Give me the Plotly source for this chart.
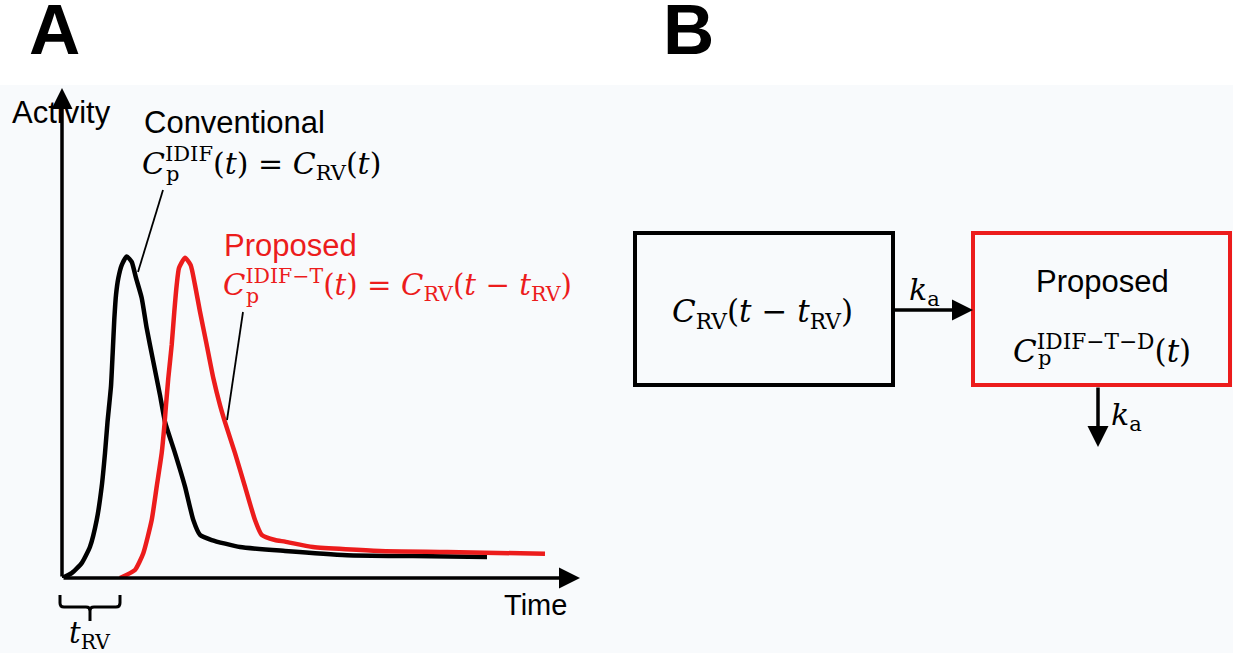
import plotly.graph_objects as go

W, H = 1233, 653

# Panel A: time in arbitrary units, activity normalised to the bolus peak
conv_time = [0, 0.97, 1.97, 2.8, 3.47, 3.97, 4.3, 4.55, 4.9, 5.07, 5.23, 5.4, 5.63,
             5.97, 6.47, 6.97, 7.4, 7.97, 8.47, 9.13, 9.8, 10.3, 11.3, 12.3, 13.13,
             13.8, 14.97, 17.8, 22.3, 28.5, 35.1, 42.5]
conv_activity = [0, 0.015, 0.046, 0.097, 0.180, 0.284, 0.388, 0.484, 0.596, 0.700,
                 0.803, 0.879, 0.931, 0.972, 0.999, 0.982, 0.932, 0.870, 0.776, 0.672,
                 0.568, 0.485, 0.388, 0.284, 0.180, 0.134, 0.118, 0.096, 0.084, 0.071,
                 0.068, 0.065]

prop_time = [5.8, 7.3, 8.13, 8.97, 9.47, 9.97, 10.25, 10.4, 10.63, 10.97, 11.23, 11.47,
             11.7, 12.3, 12.87, 13.3, 13.8, 14.47, 15.13, 15.8, 16.3, 17.3, 18.3, 19.3,
             19.97, 21.3, 22.3, 25.1, 31.8, 38.5, 48.3]
prop_activity = [0, 0.025, 0.077, 0.180, 0.284, 0.388, 0.478, 0.537, 0.621, 0.724,
                 0.827, 0.910, 0.963, 0.995, 0.972, 0.910, 0.827, 0.724, 0.621, 0.537,
                 0.484, 0.388, 0.284, 0.180, 0.134, 0.118, 0.113, 0.096, 0.084, 0.081,
                 0.075]

time_max = 51.8
activity_max = 1.522

RED = "#ec1c1c"
SANS = "Liberation Sans, Arial, sans-serif"
SERIF = "DejaVu Serif, serif"


def px(x):
    return x / W


def py(y):
    return 1 - y / H


fig = go.Figure()
fig.add_trace(go.Scatter(x=conv_time, y=conv_activity, mode="lines",
                         line=dict(color="black", width=4.5, shape="spline", smoothing=0.5),
                         hoverinfo="skip"))
fig.add_trace(go.Scatter(x=prop_time, y=prop_activity, mode="lines",
                         line=dict(color=RED, width=4.5, shape="spline", smoothing=0.5),
                         hoverinfo="skip"))

shapes = []
# light backdrop below the panel letters
shapes.append(dict(type="rect", xref="paper", yref="paper", x0=0, x1=1, y0=0, y1=py(85),
                   fillcolor="#f8fafc", line=dict(width=0), layer="below"))
# leader lines
shapes.append(dict(type="line", xref="paper", yref="paper", x0=px(163), y0=py(190),
                   x1=px(138), y1=py(272), line=dict(color="black", width=1.8)))
shapes.append(dict(type="line", xref="paper", yref="paper", x0=px(243), y0=py(312),
                   x1=px(227), y1=py(420), line=dict(color="black", width=1.8)))


def brace(x0, x1, ytop, ymid, ybot):
    xm = (x0 + x1) / 2
    r = 4
    pts = [
        ("M", x0, ytop), ("L", x0, ymid - r), ("Q", x0, ymid, x0 + r, ymid),
        ("L", xm - r, ymid), ("Q", xm, ymid, xm, ymid + r), ("L", xm, ybot),
        ("M", xm, ymid + r), ("Q", xm, ymid, xm + r, ymid), ("L", x1 - r, ymid),
        ("Q", x1, ymid, x1, ymid - r), ("L", x1, ytop),
    ]
    out = []
    for p in pts:
        cmd = p[0]
        coords = p[1:]
        seg = cmd + " " + " ".join(
            f"{px(coords[i]):.5f},{py(coords[i + 1]):.5f}" for i in range(0, len(coords), 2))
        out.append(seg)
    return " ".join(out)


shapes.append(dict(type="path", xref="paper", yref="paper",
                   path=brace(60, 120, 595, 607, 621),
                   line=dict(color="black", width=3)))
# compartment boxes
shapes.append(dict(type="rect", xref="paper", yref="paper", x0=px(635), x1=px(893),
                   y0=py(385), y1=py(233), line=dict(color="black", width=4)))
shapes.append(dict(type="rect", xref="paper", yref="paper", x0=px(973), x1=px(1230),
                   y0=py(385), y1=py(233), line=dict(color=RED, width=4)))

ann = []


def text(x, y, s, size, family=SANS, color="black", xanchor="center", yanchor="middle"):
    ann.append(dict(x=px(x), y=py(y), xref="paper", yref="paper", text=s, showarrow=False,
                    xanchor=xanchor, yanchor=yanchor,
                    font=dict(family=family, size=size, color=color)))


def arrow(x_head, y_head, dx, dy, width=3.5):
    ann.append(dict(x=px(x_head), y=py(y_head), xref="paper", yref="paper", text="",
                    showarrow=True, ax=dx, ay=dy, axref="pixel", ayref="pixel",
                    arrowhead=2, arrowsize=1.2, arrowwidth=width, arrowcolor="black",
                    standoff=0, startstandoff=0))


# axes of panel A, drawn as arrows in data units
ann.append(dict(x=0, y=activity_max, xref="x", yref="y", ax=0, ay=0, axref="x", ayref="y",
                text="", showarrow=True, arrowhead=2, arrowsize=1.2, arrowwidth=3.5,
                arrowcolor="black", standoff=0))
ann.append(dict(x=time_max, y=0, xref="x", yref="y", ax=0, ay=0, axref="x", ayref="y",
                text="", showarrow=True, arrowhead=2, arrowsize=1.2, arrowwidth=3.5,
                arrowcolor="black", standoff=0))

# panel letters
text(54, 29, "<b>A</b>", 71)
text(689, 29, "<b>B</b>", 71)

# panel A labels
text(61, 113, "Activity", 31)
text(142, 123, "Conventional", 31, xanchor="left")
text(140, 163, "<i>C</i><sup>IDIF</sup>(<i>t</i>) = <i>C</i><sub>RV</sub>(<i>t</i>)", 30,
     family=SERIF, xanchor="left")
text(172, 174, "p", 21, family=SERIF)
text(222, 245, "Proposed", 31, color=RED, xanchor="left")
text(221, 285,
     "<i>C</i><sup>IDIF−T</sup>(<i>t</i>) = <i>C</i><sub>RV</sub>(<i>t</i> − <i>t</i><sub>RV</sub>)",
     29.3, family=SERIF, color=RED, xanchor="left")
text(252, 296, "p", 20.5, family=SERIF, color=RED)
text(535, 605, "Time", 29)
text(89, 635, "<i>t</i><sub>RV</sub>", 29, family=SERIF)

# panel B labels
text(763, 313, "<i>C</i><sub>RV</sub>(<i>t</i> − <i>t</i><sub>RV</sub>)", 31, family=SERIF)
text(1102, 281, "Proposed", 31)
text(1011, 349, "<i>C</i><sup>IDIF−T−D</sup>(<i>t</i>)", 31, family=SERIF, xanchor="left")
text(1044, 358, "p", 21, family=SERIF)
text(924, 291, "<i>k</i><sub>a</sub>", 30, family=SERIF)
text(1126, 416, "<i>k</i><sub>a</sub>", 30, family=SERIF)

# transfer arrows
arrow(973, 310, -80, 0)
arrow(1098, 447, 0, -61)

fig.update_layout(
    width=W, height=H, margin=dict(l=0, r=0, t=0, b=0),
    paper_bgcolor="white", plot_bgcolor="rgba(0,0,0,0)",
    showlegend=False, shapes=shapes, annotations=ann,
    xaxis=dict(domain=[px(62), px(580)], range=[0, time_max], visible=False, fixedrange=True),
    yaxis=dict(domain=[py(578), py(88)], range=[0, activity_max], visible=False, fixedrange=True),
)

fig.write_html("out.html", config=dict(displayModeBar=False))
